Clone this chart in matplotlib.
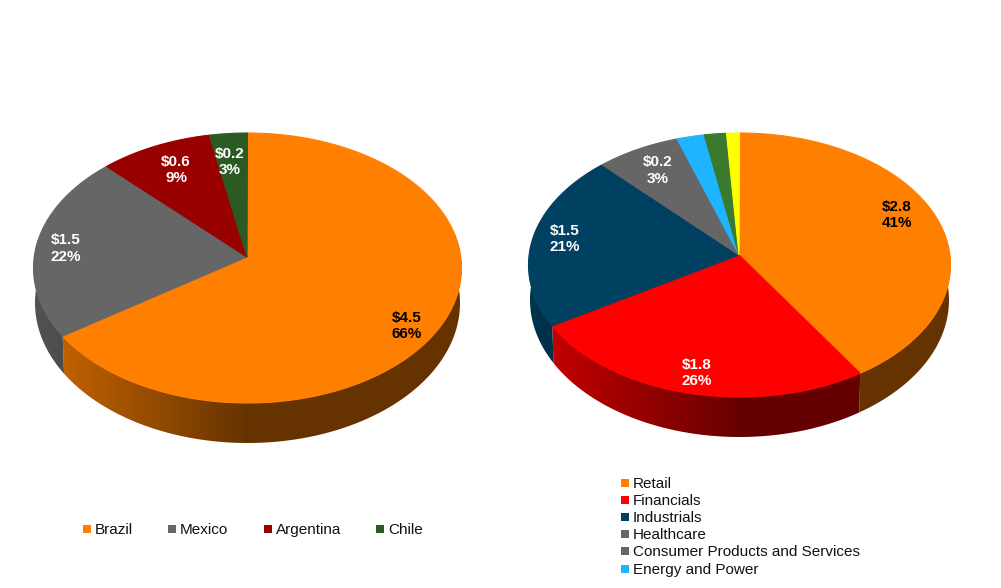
import numpy as np
import matplotlib
matplotlib.use("Agg")
import matplotlib.pyplot as plt
from matplotlib.colors import to_rgb
from matplotlib.patches import Polygon, Rectangle

plt.rcParams["font.family"] = ["Liberation Sans", "DejaVu Sans"]

ORANGE = "#FF8000"
GRAY = "#666666"

# deals by country
country_names = ["Brazil", "Mexico", "Argentina", "Chile"]
country_values = [4.5, 1.5, 0.6, 0.2]
country_pct = [66, 22, 9, 3]
country_colors = [ORANGE, GRAY, "#990000", "#2B5B22"]
country_label_xy = [(406.5, 326), (65.5, 248.5), (176, 170), (229.5, 162)]
country_label_colors = ["black", "white", "white", "white"]

# deals by sector, the last four wedges carry no label
sector_names = ["Retail", "Financials", "Industrials", "Healthcare",
                "Consumer Products and Services", "Energy and Power"]
sector_values = [2.8, 1.82, 1.48, 0.2, 0.26, 0.15, 0.12, 0.07]
sector_pct = [41, 26, 21, 3]
sector_colors = [ORANGE, "#FF0000", "#004060", GRAY, GRAY,
                 "#1FB4FF", "#3A7A2E", "#FFFF00"]
sector_label_xy = [(896.5, 215), (696.5, 373), (564.5, 239), (657.5, 170.5)]
sector_label_colors = ["black", "white", "white", "white"]

TILT = 0.015


def tilt_angles(angles):
    # perspective pushes the wedge edges towards the viewer's side
    z = np.cos(angles) + 1j * np.sin(angles)
    w = (z + TILT) / (1 + TILT * z)
    return np.unwrap(np.angle(w))


def ellipse_pts(geom, angles, key):
    # angles run clockwise from twelve o'clock
    cy, ry = geom[key]
    rx = geom["rx"] if key == "top" else geom["rx"] - 1.5
    return geom["cx"] + rx * np.sin(angles), cy - ry * np.cos(angles)


def shade(color, x, geom):
    # side wall gets darker from the left, then stays flat
    frac = (x - (geom["cx"] - geom["rx"])) / geom["rx"]
    k = np.clip(0.81 - 0.41 * frac, 0.4, 0.85)
    return np.outer(k, to_rgb(color))


def draw_pie(ax, values, colors, geom):
    share = np.concatenate([[0], np.cumsum(values)]) / sum(values) * 2 * np.pi
    edges = tilt_angles(share)
    edges[-1] = 2 * np.pi
    edges = np.where(edges < -1e-6, edges + 2 * np.pi, edges)

    # side wall, one gradient image per wedge clipped to its outline
    for i, color in enumerate(colors):
        a0 = max(edges[i], np.radians(75))
        a1 = min(edges[i + 1], np.radians(285))
        if a1 <= a0:
            continue
        t = np.linspace(a0, a1, 300)
        xt, yt = ellipse_pts(geom, t, "top")
        xl, yl = ellipse_pts(geom, t, "low")
        outline = np.column_stack([np.r_[xt, xl[::-1]], np.r_[yt, yl[::-1]]])
        xs = np.linspace(outline[:, 0].min(), outline[:, 0].max(), 256)
        img = shade(color, xs, geom)[np.newaxis, :, :]
        im = ax.imshow(img, aspect="auto", interpolation="bilinear",
                       extent=[xs[0], xs[-1], outline[:, 1].max(), outline[:, 1].min()])
        clip = Polygon(outline, closed=True, transform=ax.transData)
        im.set_clip_path(clip)

    # top face, wedges meet at the apex rather than the ellipse centre
    for i, color in enumerate(colors):
        t = np.linspace(edges[i], edges[i + 1], 200)
        x, y = ellipse_pts(geom, t, "top")
        ax.fill(np.r_[geom["apex"][0], x], np.r_[geom["apex"][1], y],
                color=color, lw=0.8)


def draw_labels(ax, values, pct, positions, colors):
    for v, p, (x, y), c in zip(values, pct, positions, colors):
        ax.text(x, y, f"${v:.1f}\n{p}%", color=c, fontsize=11,
                fontweight="bold", ha="center", va="center", linespacing=1.22)


def legend_entry(ax, x, y, name, color):
    ax.add_patch(Rectangle((x, y - 4), 8, 8, color=color, lw=0))
    ax.text(x + 12, y + 1, name, fontsize=10.95, color="#111111",
            ha="left", va="center")


fig = plt.figure(figsize=(10.01, 5.88), dpi=100)
ax = fig.add_axes([0, 0, 1, 1])

left_geom = {"cx": 247.5, "rx": 214, "top": (268, 135), "low": (303, 140),
             "apex": (247, 257)}
right_geom = {"cx": 739.5, "rx": 211, "top": (265, 132), "low": (300, 137),
              "apex": (739, 255)}

draw_pie(ax, country_values, country_colors, left_geom)
draw_pie(ax, sector_values, sector_colors, right_geom)

draw_labels(ax, country_values, country_pct, country_label_xy, country_label_colors)
draw_labels(ax, sector_values, sector_pct, sector_label_xy, sector_label_colors)

for x, name, color in zip([83, 168, 264, 376], country_names, country_colors):
    legend_entry(ax, x, 529, name, color)

for y, name, color in zip([483, 500, 517, 534, 551, 569], sector_names, sector_colors):
    legend_entry(ax, 621, y, name, color)

ax.set_xlim(0, 1001)
ax.set_ylim(588, 0)
ax.axis("off")

fig.savefig("out.png", dpi=100, facecolor="white")
